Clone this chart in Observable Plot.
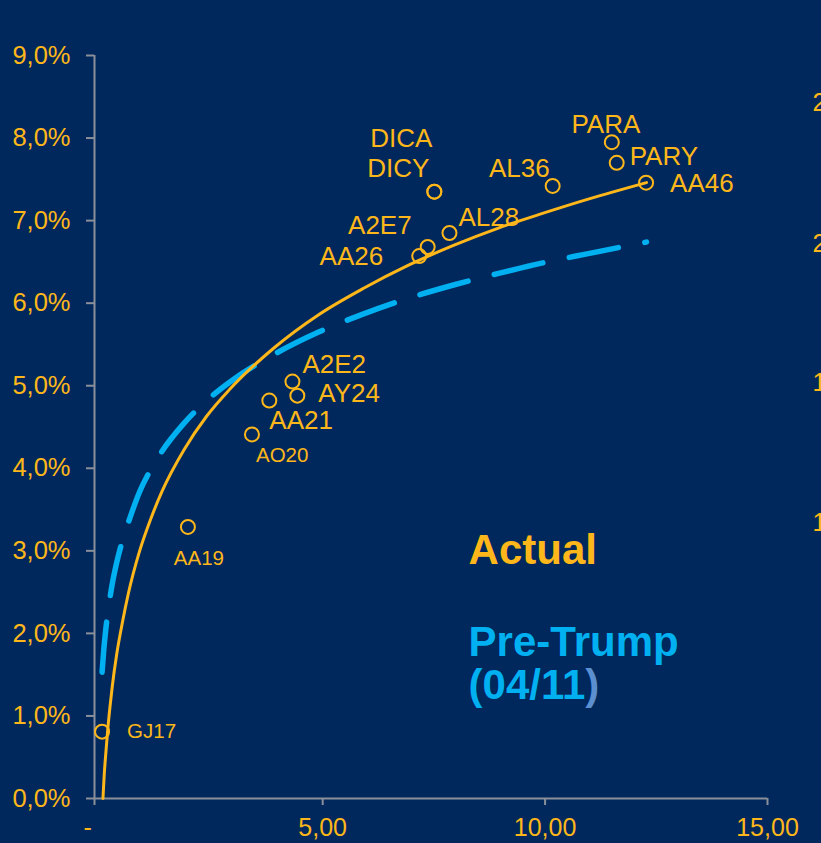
<!DOCTYPE html>
<html><head><meta charset="utf-8">
<script src="https://cdn.jsdelivr.net/npm/d3@7"></script>
<script src="https://cdn.jsdelivr.net/npm/@observablehq/plot@0.6"></script>
<style>
html,body{margin:0;padding:0;background:#00285c;overflow:hidden;width:821px;height:843px}
#chart svg{display:block}
</style>
</head><body><div id="chart"></div>
<script>
// ---- data ----
const names    = ["GJ17","AA19","AO20","AA21","A2E2","AY24","AA26","A2E7","AL28","DICA","DICY","AL36","PARA","PARY","AA46"];
const maturity = [0.04, 1.97, 3.41, 3.80, 4.32, 4.43, 7.17, 7.36, 7.85, 7.51, 7.51, 10.17, 11.50, 11.61, 12.27];
const yieldPct = [0.81, 3.29, 4.41, 4.82, 5.05, 4.88, 6.57, 6.68, 6.85, 7.35, 7.35, 7.42, 7.95, 7.70, 7.46];

const actualCurveX = [0.06, 0.09, 0.12, 0.17, 0.22, 0.27, 0.37, 0.50, 0.63, 0.88, 1.13, 1.38, 1.89, 2.39, 2.90, 3.91, 4.91, 5.92, 6.93, 7.94, 8.95, 9.96, 10.97, 12.28];
const actualCurveY = [0.00, 0.30, 0.52, 0.85, 1.12, 1.36, 1.75, 2.14, 2.48, 2.99, 3.38, 3.71, 4.23, 4.63, 4.95, 5.46, 5.86, 6.18, 6.46, 6.70, 6.91, 7.09, 7.26, 7.46];

const preTrumpCurveX = [0.04, 0.08, 0.12, 0.19, 0.27, 0.37, 0.48, 0.68, 0.88, 1.13, 1.38, 1.89, 2.39, 2.90, 3.91, 4.91, 5.92, 6.93, 7.94, 8.95, 9.96, 10.97, 12.28];
const preTrumpCurveY = [1.53, 1.81, 2.03, 2.33, 2.60, 2.86, 3.09, 3.42, 3.71, 3.98, 4.20, 4.55, 4.82, 5.04, 5.38, 5.65, 5.87, 6.06, 6.22, 6.36, 6.49, 6.60, 6.74];

const xAxisMin = -0.13, xAxisMax = 15;
const xTickValues = [xAxisMin, 5, 10, 15];
const xTickLabels = ["-\u00a0\u00a0", "5,00", "10,00", "15,00"];
const yTickValues = [0,1,2,3,4,5,6,7,8,9];
const yTickLabels = ["0,0%","1,0%","2,0%","3,0%","4,0%","5,0%","6,0%","7,0%","8,0%","9,0%"];

const seriesNames = ["Actual", "Pre-Trump", "(04/11)"];
const seriesLabelX = [8.28, 8.28, 8.28];
const seriesLabelY = [3.00, 1.89, 1.37];

// cut-off secondary axis on the right edge
const secondaryLabels = ["25", "20", "15", "10"];
const secondaryLabelY = [8.42, 6.72, 5.03, 3.34];

// ---- styles / layout ----
const NAVY = "#00285c", GOLD = "#fdb71a", BLUE = "#00b0f0", AXIS = "#8a8f99", PAREN = "#5b8fd0";
const FONT = "'Liberation Sans', Arial, sans-serif";
const labelLayout = {
  GJ17:{a:"start", dx:25, dy:0,   s:20.5},
  AA19:{a:"middle",dx:11, dy:32,  s:20.5},
  AO20:{a:"start", dx:4,  dy:21,  s:20.5},
  AA21:{a:"start", dx:0,  dy:20,  s:26},
  A2E2:{a:"start", dx:10, dy:-17, s:26},
  AY24:{a:"start", dx:21, dy:-2,  s:26},
  AA26:{a:"end",   dx:-36,dy:1,   s:26},
  A2E7:{a:"end",   dx:-16,dy:-21, s:26},
  AL28:{a:"start", dx:9,  dy:-15, s:26},
  DICA:{a:"end",   dx:-2, dy:-53, s:26},
  DICY:{a:"end",   dx:-5, dy:-23, s:26},
  AL36:{a:"end",   dx:-3, dy:-17, s:26},
  PARA:{a:"middle",dx:-6, dy:-18, s:26},
  PARY:{a:"start", dx:13, dy:-6,  s:26},
  AA46:{a:"start", dx:24, dy:1,   s:26}
};
const seriesColors = [GOLD, BLUE, BLUE];

const idx = names.map((_, i) => i);
const actualIdx = actualCurveX.map((_, i) => i);
const preIdx = preTrumpCurveX.map((_, i) => i);

const chart = Plot.plot({
  width: 821, height: 843,
  marginLeft: 94, marginRight: 54, marginTop: 55, marginBottom: 45,
  style: {background: NAVY, fontFamily: FONT, color: GOLD},
  x: {domain: [xAxisMin, xAxisMax], axis: null},
  y: {domain: [0, 9], axis: null},
  marks: [
    // axes lines
    Plot.ruleY([0], {stroke: AXIS, strokeWidth: 2}),
    Plot.ruleX([xAxisMin], {stroke: AXIS, strokeWidth: 2}),
    Plot.axisY({ticks: yTickValues, tickFormat: (d) => yTickLabels[yTickValues.indexOf(d)],
      tickSize: 8, tickPadding: 16, stroke: AXIS, strokeWidth: 2, fill: GOLD, fontSize: 25.5, label: null}),
    Plot.axisX({ticks: xTickValues, tickFormat: (d) => xTickLabels[xTickValues.indexOf(d)],
      tickSize: 7, tickPadding: 13, stroke: AXIS, strokeWidth: 2, fill: GOLD, fontSize: 25, label: null}),
    // curves
    Plot.line(preIdx, {x: i => preTrumpCurveX[i], y: i => preTrumpCurveY[i], curve: "monotone-x",
      stroke: BLUE, strokeWidth: 5.5, strokeDasharray: "50,27", strokeLinecap: "round"}),
    Plot.line(actualIdx, {x: i => actualCurveX[i], y: i => actualCurveY[i], curve: "monotone-x",
      stroke: GOLD, strokeWidth: 3}),
    // points
    Plot.dot(idx, {x: i => maturity[i], y: i => yieldPct[i], r: 7, stroke: GOLD, strokeWidth: 2, fill: "none"}),
    // point labels
    ...names.map((n, i) => {
      const L = labelLayout[n];
      return Plot.text([i], {x: j => maturity[j], y: j => yieldPct[j], text: j => names[j],
        textAnchor: L.a, dx: L.dx, dy: L.dy, fontSize: L.s, fill: GOLD, fontFamily: FONT});
    }),
    // series annotations
    ...seriesNames.map((s, i) => Plot.text([i], {x: j => seriesLabelX[j], y: j => seriesLabelY[j], text: j => seriesNames[j],
      textAnchor: "start", fontSize: 42, fontWeight: "bold", fill: seriesColors[i], fontFamily: FONT})),
    // secondary axis labels (cut off at right edge, as in the reference)
    Plot.text(secondaryLabels, {frameAnchor: "right", y: (d, i) => secondaryLabelY[i], text: d => d,
      textAnchor: "start", dx: 45, fontSize: 25, fill: GOLD, fontFamily: FONT})
  ]
});

// colour the closing parenthesis differently
chart.querySelectorAll("text").forEach(t => {
  if (t.textContent === "(04/11)") {
    t.textContent = "";
    const ns = "http://www.w3.org/2000/svg";
    const a = document.createElementNS(ns, "tspan"); a.textContent = "(04/11";
    const b = document.createElementNS(ns, "tspan"); b.textContent = ")"; b.setAttribute("fill", PAREN);
    t.appendChild(a); t.appendChild(b);
  }
});
document.getElementById("chart").appendChild(chart);
</script>
</body></html>
